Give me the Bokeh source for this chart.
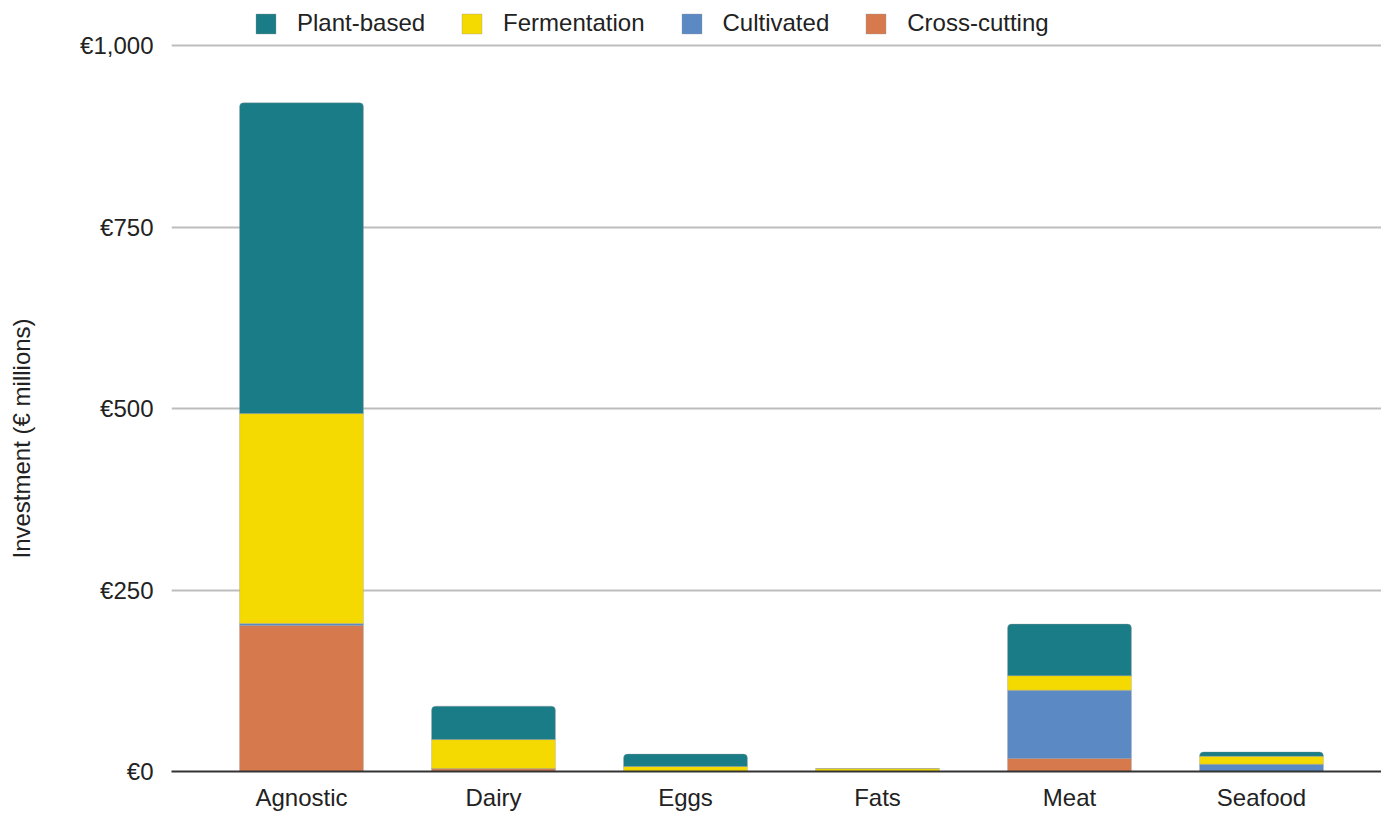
from bokeh.plotting import figure
from bokeh.models import (ColumnDataSource, Range1d, FixedTicker, Legend, LegendItem, Title)
from bokeh.embed import file_html
from bokeh.resources import INLINE

# Investment by target category, stacked by technology pillar (€ millions)
categories = ["Agnostic", "Dairy", "Eggs", "Fats", "Meat", "Seafood"]
cross_cutting = [201, 4, 0, 0, 18, 0]
cultivated = [3, 0, 0, 0, 94, 10]
fermentation = [289, 40, 7, 4, 20, 11]
plant_based = [428, 46, 17, 0, 71, 6]

y_ticks = [0, 250, 500, 750, 1000]
y_tick_labels = ["€0", "€250", "€500", "€750", "€1,000"]

series = ["cross", "cult", "ferm", "plant"]
series_names = {"plant": "Plant-based", "ferm": "Fermentation",
                "cult": "Cultivated", "cross": "Cross-cutting"}
colors = {"plant": "#1a7c86", "ferm": "#f4da00",
          "cult": "#5a89c3", "cross": "#d67a4d"}

FONT = "Liberation Sans"

source = ColumnDataSource(data=dict(
    x=list(range(len(categories))),
    cross=cross_cutting, cult=cultivated, ferm=fermentation, plant=plant_based,
))

# the frame reaches the top edge so the legend can sit above the €1,000 line
p = figure(width=1381, height=813, output_backend="svg", toolbar_location=None,
           x_range=Range1d(-0.677, 5.625), y_range=Range1d(0, 1062),
           min_border_left=171, min_border_right=0, min_border_top=0,
           min_border_bottom=40)
p.outline_line_color = None
p.background_fill_color = "white"
p.border_fill_color = "white"

renderers = p.vbar_stack(series, x="x", width=0.645, source=source,
                         color=[colors[s] for s in series],
                         line_color="#9a9a9a", line_alpha=0.45, line_width=0.8)
renderers[-1].glyph.border_radius = (4, 4, 0, 0)

# axes
p.yaxis.ticker = FixedTicker(ticks=y_ticks)
p.yaxis.major_label_overrides = dict(zip(y_ticks, y_tick_labels))
p.yaxis.axis_line_color = None
p.yaxis.major_tick_line_color = None
p.yaxis.minor_tick_line_color = None
p.yaxis.major_label_text_font = FONT
p.yaxis.major_label_text_font_size = "24px"
p.yaxis.major_label_text_color = "#222222"
p.yaxis.major_label_standoff = 12
# blank axis label only reserves room between the tick labels and the title
p.yaxis.axis_label = " "
p.yaxis.axis_label_text_font_size = "24px"
p.yaxis.axis_label_standoff = 8

p.add_layout(Title(text="Investment (€ millions)", align="left", offset=213,
                   text_font=FONT, text_font_size="24px", text_font_style="normal",
                   text_color="#222222"), "left")

p.xaxis.ticker = FixedTicker(ticks=list(range(len(categories))))
p.xaxis.major_label_overrides = {i: c for i, c in enumerate(categories)}
p.xaxis.axis_line_color = "#333333"
p.xaxis.axis_line_width = 2
p.xaxis.major_tick_line_color = None
p.xaxis.minor_tick_line_color = None
p.xaxis.major_label_text_font = FONT
p.xaxis.major_label_text_font_size = "24px"
p.xaxis.major_label_text_color = "#222222"
p.xaxis.major_label_standoff = 6

p.xgrid.grid_line_color = None
p.ygrid.grid_line_color = "#bdbdbd"
p.ygrid.grid_line_width = 2

legend_order = ["plant", "ferm", "cult", "cross"]
items = [LegendItem(label=series_names[s], renderers=[renderers[series.index(s)]])
         for s in legend_order]
legend = Legend(items=items, orientation="horizontal", location=(82, 734),
                glyph_width=25, glyph_height=25, label_standoff=19, spacing=34,
                label_text_font=FONT, label_text_font_size="24px",
                label_text_color="#222222", padding=0, margin=0,
                border_line_color=None, background_fill_alpha=0)
p.add_layout(legend, "center")

open("out.html", "w").write(file_html(p, INLINE))
